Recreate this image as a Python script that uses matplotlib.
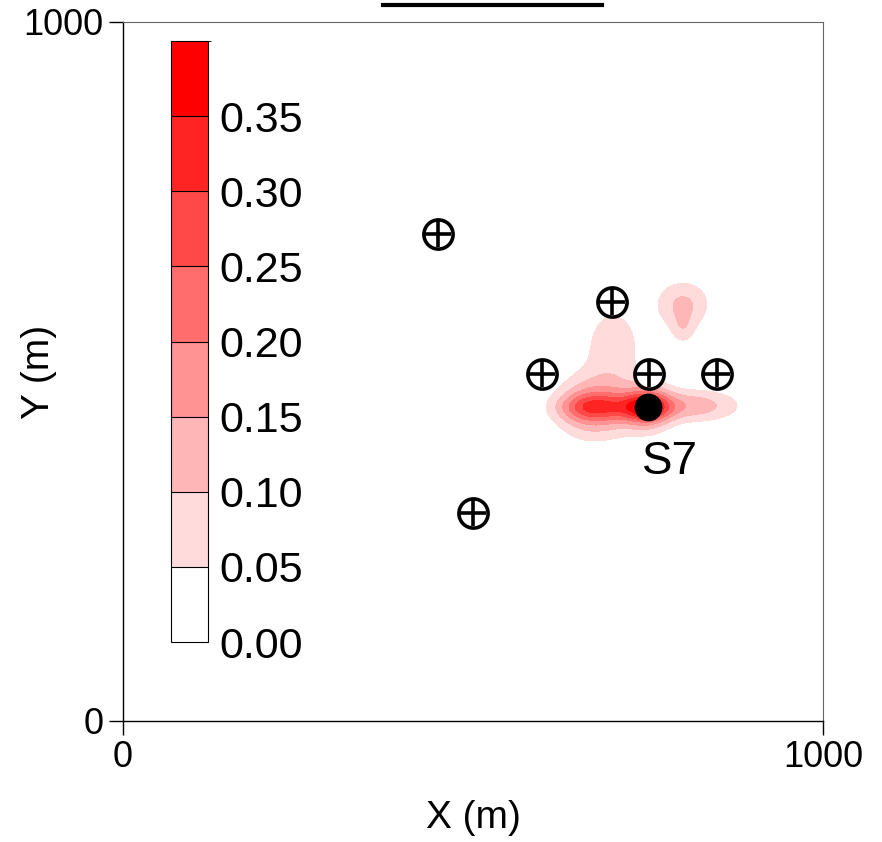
import numpy as np
import matplotlib
matplotlib.use("Agg")
import matplotlib.pyplot as plt
from matplotlib.colors import ListedColormap, BoundaryNorm
from matplotlib.cm import ScalarMappable
from matplotlib.lines import Line2D

plt.rcParams["font.family"] = ["Liberation Sans", "DejaVu Sans"]

# contour levels (concentration) and fill colours, white -> red
levels = [0.0, 0.05, 0.10, 0.15, 0.20, 0.25, 0.30, 0.35, 0.40]
level_colors = ["#FFFFFF", "#FFDBDB", "#FFB6B6", "#FF9292", "#FF6D6D",
                "#FF4949", "#FF2424", "#FF0000"]

# plume pieces estimated from the map: centre x, centre y, peak, spread x, spread y
plume_x = [667, 667, 705, 705, 748, 748, 815, 700, 800, 800]
plume_y = [449, 449, 449, 449, 449, 449, 451, 535, 596, 560]
plume_peak = [0.165, 0.13, 0.04, 0.035, 0.205, 0.16, 0.13, 0.08, 0.11, 0.06]
plume_sx = [33, 33, 25, 25, 24, 24, 45, 31, 27, 12]
plume_sy = [30, 13, 30, 13, 23, 12, 16, 45, 24, 16]

# monitoring wells
well_x = [450, 699, 599, 751, 849, 500]
well_y = [697, 600, 497, 497, 497, 297]

# source
source_x = [750]
source_y = [449]
source_name = "S7"

gx, gy = np.meshgrid(np.linspace(0, 1000, 501), np.linspace(0, 1000, 501))
conc = np.zeros_like(gx)
for cx, cy, a, sx, sy in zip(plume_x, plume_y, plume_peak, plume_sx, plume_sy):
    conc += a * np.exp(-((gx - cx) ** 2) / (2 * sx ** 2) - ((gy - cy) ** 2) / (2 * sy ** 2))
conc = np.clip(conc, 0, 0.3999)

cmap = ListedColormap(level_colors)
norm = BoundaryNorm(levels, cmap.N)

fig = plt.figure(figsize=(8.82, 8.42), dpi=100)
ax = fig.add_axes([123 / 882, 1 - 721 / 842, 700 / 882, 699 / 842])

ax.contourf(gx, gy, conc, levels=levels, cmap=cmap, norm=norm)

ax.plot(well_x, well_y, "o", ms=21, mfc="white", mec="black", mew=2.6, ls="none")
ax.plot(well_x, well_y, "+", ms=19, mec="black", mew=2.6, ls="none")
ax.plot(source_x, source_y, "o", ms=19, color="black", ls="none")
ax.text(source_x[0] + 32, source_y[0] - 78, source_name, fontsize=33,
        ha="center", va="center")

ax.set_xlim(0, 1000)
ax.set_ylim(0, 1000)
ax.set_xticks([0, 1000])
ax.set_yticks([0, 1000])
ax.tick_params(direction="out", length=10, width=1, labelsize=26, pad=4)
ax.set_xlabel("X (m)", fontsize=28, labelpad=18)
ax.set_ylabel("Y (m)", fontsize=28)
ax.yaxis.set_label_coords(-0.094, 0.5)
for side in ["top", "right"]:
    ax.spines[side].set_color("#666666")
for side in ["left", "bottom"]:
    ax.spines[side].set_linewidth(1.0)

# colour bar drawn inside the map frame
cax = fig.add_axes([171 / 882, 1 - 642 / 842, 37 / 882, 601 / 842])
cb = fig.colorbar(ScalarMappable(norm=norm, cmap=cmap), cax=cax,
                  ticks=levels[:-1], drawedges=True)
cb.ax.set_yticklabels([f"{v:.2f}" for v in levels[:-1]])
cb.ax.tick_params(length=0, labelsize=31, pad=8)
cb.outline.set_linewidth(0.8)
cb.dividers.set_linewidth(0.8)

# cut-off title underline at the top edge
fig.add_artist(Line2D([383 / 882, 602 / 882], [1 - 5 / 842, 1 - 5 / 842],
                      color="black", lw=3))

fig.savefig("out.png", dpi=100)
